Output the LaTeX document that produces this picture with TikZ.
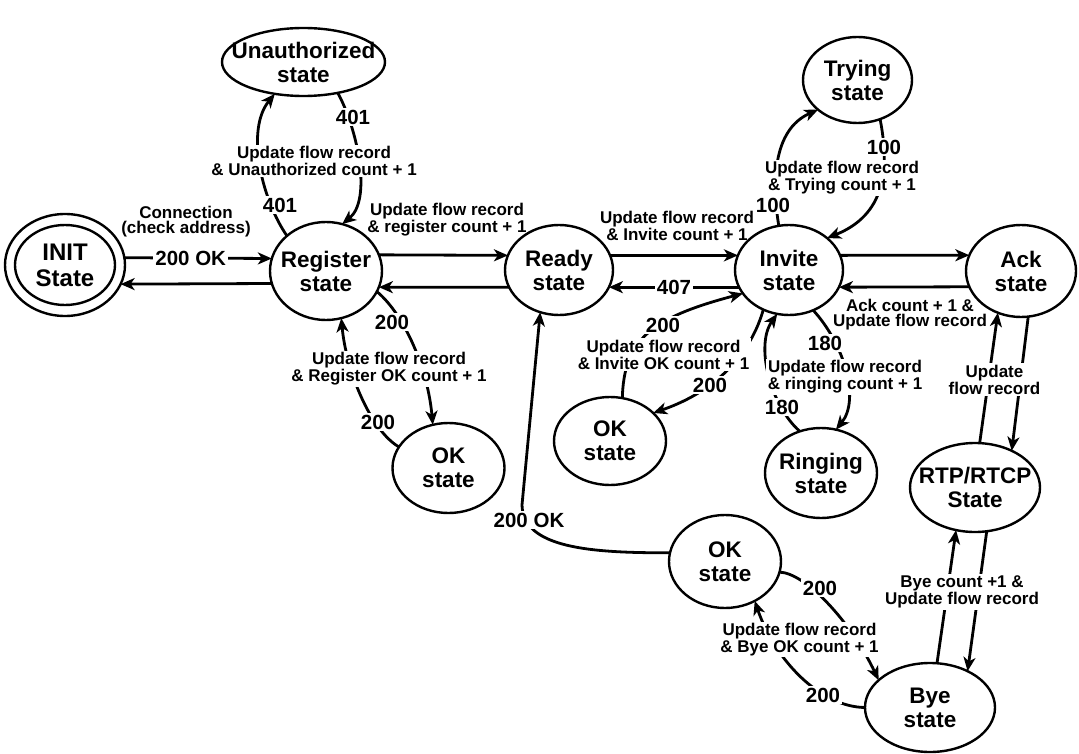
\documentclass[tikz,border=0pt]{standalone}
\usepackage{fontspec}
\setmainfont{Liberation Sans}
\usetikzlibrary{arrows.meta,shapes.geometric}
\pgfdeclarelayer{bg}
\pgfsetlayers{bg,main}
\begin{document}
\begin{tikzpicture}[x=1pt,y=-1pt,
  st/.style={ellipse, draw, line width=2.4pt, inner sep=0pt, outer sep=0pt},
  stt/.style={font=\fontsize{22.5}{24}\selectfont\bfseries, align=center, inner sep=0pt},
  con/.style={line width=2.8pt},
  arr/.style={con, -{Stealth[length=14pt,width=12pt,inset=4pt]}},
  lab/.style={font=\fontsize{17}{15}\selectfont\bfseries, align=center, fill=white, inner sep=1.5pt},
  num/.style={font=\fontsize{20.5}{22}\selectfont\bfseries, fill=white, inner sep=2pt}]
\useasboundingbox (0,0) rectangle (1079,754);
% states
\node[st, minimum width=120pt, minimum height=102pt] (init) at (65,265) {};
\node[st, minimum width=100pt, minimum height=80pt, label={[stt, font=\fontsize{24}{26}\selectfont\bfseries]center:INIT\\State}] (initin) at (65,265) {};
\node[st, minimum width=163pt, minimum height=68pt, label={[stt]center:Unauthorized\\state}] (unauth) at (303.5,62) {};
\node[st, minimum width=112pt, minimum height=98pt, label={[stt]center:Register\\state}] (reg) at (326,271) {};
\node[st, minimum width=108pt, minimum height=90pt, label={[stt]center:Ready\\state}] (rdy) at (559,270) {};
\node[st, minimum width=108pt, minimum height=90pt, label={[stt]center:Invite\\state}] (inv) at (789,270) {};
\node[st, minimum width=109pt, minimum height=86pt, label={[stt]center:Trying\\state}] (try) at (857.5,80) {};
\node[st, minimum width=110pt, minimum height=92pt, label={[stt]center:Ack\\state}] (ack) at (1021,271) {};
\node[st, minimum width=112pt, minimum height=90pt, label={[stt]center:OK\\state}] (ok1) at (448.5,468) {};
\node[st, minimum width=112pt, minimum height=88pt, label={[stt]center:OK\\state}] (ok2) at (610,441) {};
\node[st, minimum width=112pt, minimum height=90pt, label={[stt]center:Ringing\\state}] (ring) at (821,473) {};
\node[st, minimum width=130pt, minimum height=89pt, label={[stt]center:RTP/RTCP\\State}] (rtp) at (975,487.5) {};
\node[st, minimum width=112pt, minimum height=93pt, label={[stt]center:OK\\state}] (ok3) at (725,561.5) {};
\node[st, minimum width=130pt, minimum height=89pt, label={[stt]center:Bye\\state}] (bye) at (930,707.5) {};

\begin{pgfonlayer}{bg}
% horizontal main flow
\draw[arr] (init.7) -- node[num, pos=0.45] (l200ok) {200 OK} (reg.167);
\draw[arr] (reg.193) -- (init.341);
\draw[arr] (reg.17) -- (rdy.164);
\draw[arr] (rdy.199) -- (reg.343);
\draw[arr] (rdy.16) -- (inv.164);
\draw[arr] (inv.199) -- node[num, midway] (l407) {407} (rdy.341);
\draw[arr] (inv.16) -- (ack.163);
\draw[arr] (ack.197) -- (inv.341);
% unauthorized
\draw[arr] (reg.138) .. controls (262,200) and (245,130) .. (unauth.228);
\draw[arr] (unauth.318) .. controls (358,130) and (372,200) .. (reg.71);
% register ok
\draw[arr] (reg.338) .. controls (405,315) and (428,370) .. (ok1.110);
\draw[arr] (ok1.157) .. controls (370,430) and (346,370) .. (reg.288);
% trying
\draw[arr] (inv.103) .. controls (772,185) and (772,130) .. (try.217);
\draw[arr] (try.300) .. controls (890,170) and (885,215) .. (inv.40);
% ringing
\draw[arr] (inv.301) .. controls (845,345) and (860,400) .. (ring.71);
\draw[arr] (ring.117) .. controls (770,405) and (755,345) .. (inv.255);
% invite ok
\draw[arr] (ok2.74) .. controls (624,340) and (650,318) .. (inv.207);
\draw[arr] (inv.237) .. controls (752,350) and (720,390) .. (ok2.33);
% ack / rtp / bye
\draw[arr] (rtp.84) -- (ack.241);
\draw[arr] (ack.279) -- (rtp.45);
\draw[arr] (bye.81) -- (rtp.246);
\draw[arr] (rtp.285) -- (bye.44);
% bye ok
\draw[arr] (ok3.349) .. controls (805,573) and (850,620) .. (bye.152);
\draw[arr] (bye.180) .. controls (820,707) and (775,660) .. (ok3.307);
% ok -> ready
\draw[arr] (ok3.171) .. controls (590,553) and (523,548) .. (522,505) -- (rdy.246);

% labels
\node[lab] (lconn) at (186,222) {Connection\\(check address)};
\node[lab] (lreg) at (447,220) {Update flow record\\\& register count + 1};
\node[lab] (linv) at (677,226) {Update flow record\\\& Invite count + 1};
\node[lab] (lack) at (910,314.5) {Ack count + 1 \&\\Update flow record};
\node[num] (u1) at (353,117) {401};
\node[num] (u2) at (280,205) {401};
\node[lab] (lu) at (314,161) {Update flow record\\\& Unauthorized count + 1};
\node[num] (r1) at (392,322) {200};
\node[num] (r2) at (378,422) {200};
\node[lab] (lr) at (389,369) {Update flow record\\\& Register OK count + 1};
\node[num] (t1) at (884,147) {100};
\node[num] (t2) at (773,205) {100};
\node[lab] (lt) at (842,178) {Update flow record\\\& Trying count + 1};
\node[num] (g1) at (825,343) {180};
\node[num] (g2) at (782,407) {180};
\node[lab] (lg) at (845,377) {Update flow record\\\& ringing count + 1};
\node[num] (o1) at (663,325) {200};
\node[num] (o2) at (710,385) {200};
\node[lab] (lo) at (663.5,354.5) {Update flow record\\\& Invite OK count + 1};
\node[lab] (lk) at (994.5,379.5) {Update\\flow record};
\node[lab] (lm) at (962,592) {Bye count +1 \&\\Update flow record};
\node[num] (b1) at (820,588) {200};
\node[num] (b2) at (823,695) {200};
\node[lab] (lb) at (799.5,639.5) {Update flow record\\\& Bye OK count + 1};
\node[num] (rok) at (529,520) {200 OK};
\end{pgfonlayer}
\end{tikzpicture}
\end{document}
